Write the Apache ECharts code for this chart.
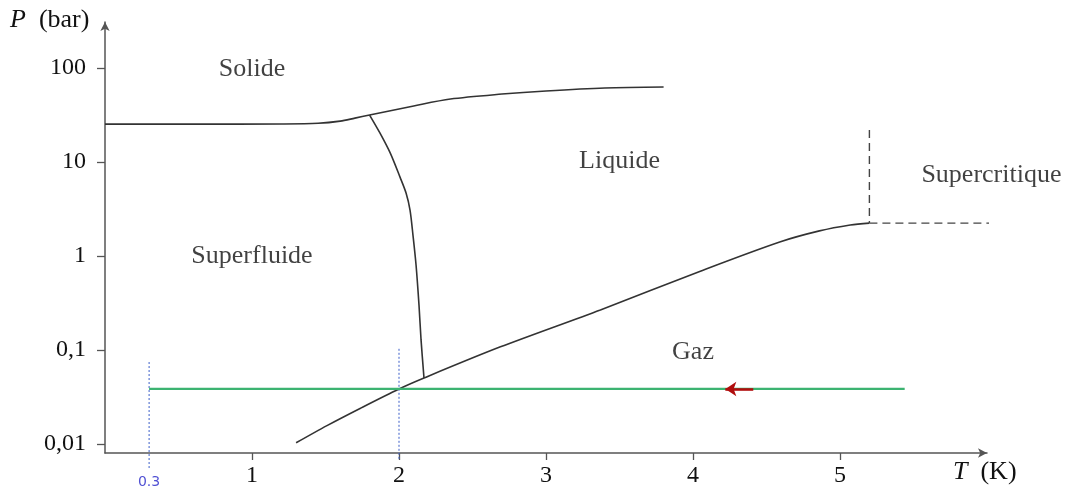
<!DOCTYPE html>
<html>
<head>
<meta charset="utf-8">
<script src="https://cdn.jsdelivr.net/npm/echarts@6/dist/echarts.min.js"></script>
<style>
  html, body { margin: 0; padding: 0; background: #ffffff; }
  #chart { width: 1069px; height: 488px; }
</style>
</head>
<body>
<div id="chart"></div>
<script>
// Phase diagram of helium-4: temperature T (K) against pressure P (bar, log scale)

// Melting curve (solid / liquid and solid / superfluid boundary)
const meltT = [0, 0.6, 1.2, 1.45, 1.6, 1.7, 1.8, 2.1, 2.35, 2.7, 3.0, 3.4, 3.8];
const meltP = [25.3, 25.3, 25.4, 25.8, 27.2, 29.3, 31.6, 39.5, 46.8, 52.8, 57, 61.3, 62.8];

// Lambda line (superfluid / normal liquid)
const lambdaT = [1.80, 1.87, 1.94, 2.007, 2.048, 2.075, 2.095, 2.116, 2.136, 2.15, 2.17];
const lambdaP = [31.6, 20.4, 12.5, 6.9, 4.68, 3.08, 1.67, 0.802, 0.301, 0.128, 0.0504];

// Vaporisation curve, ending at the critical point
const vapT = [1.30, 1.51, 1.735, 2.0, 2.17, 2.69, 3.37, 4.05, 4.59, 4.86, 5.07, 5.2];
const vapP = [0.0103, 0.0157, 0.0239, 0.0385, 0.0504, 0.108, 0.267, 0.69, 1.41, 1.85, 2.14, 2.24];

// Dashed boundaries of the supercritical domain
const critVertT = [5.2, 5.2];
const critVertP = [21.9, 2.24];
const critHorT = [5.2, 6.21];
const critHorP = [2.24, 2.24];

// Isobaric cooling path and its direction arrow
const pathT = [0.3, 5.44];
const pathP = [0.0385, 0.0385];
const arrowT = [4.41, 4.22];

// Dotted guides at T = 0.3 K and T = 2 K
const guideLowT = [0.3, 0.3];
const guideLowP = [0.0745, 0.0053];
const guideLambdaT = [2, 2];
const guideLambdaP = [0.103, 0.0068];
const guideLabel = '0.3';
const guideLabelT = 0.3;
const guideLabelP = 0.0039;

// Region names
const regionNames = ['Solide', 'Liquide', 'Supercritique', 'Superfluide', 'Gaz'];
const regionT = [1.0, 3.5, 6.03, 1.0, 4.0];
const regionP = [98, 10.3, 7.3, 1.0, 0.095];

// Tick labels
const xTickLabels = ['1', '2', '3', '4', '5'];
const yTickLabels = ['0,01', '0,1', '1', '10', '100'];

const pairs = (ts, ps) => ts.map((t, i) => [t, ps[i]]);

const SERIF = '"Liberation Serif", "DejaVu Serif", serif';
const INK = '#111111';
const AXIS = '#555555';

const curveStyle = { color: '#333333', width: 1.6 };

function curve(ts, ps, extra) {
  return Object.assign({
    type: 'line',
    xAxisIndex: 0,
    yAxisIndex: 0,
    data: pairs(ts, ps),
    showSymbol: false,
    symbol: 'none',
    clip: false,
    silent: true,
    lineStyle: curveStyle
  }, extra || {});
}

const chart = echarts.init(document.getElementById('chart'), null, { renderer: 'canvas' });

chart.setOption({
  animation: false,
  backgroundColor: '#ffffff',
  grid: [
    // plotting frame carrying the arrowed axes
    { left: 105, right: 82, top: 22, bottom: 35 },
    // decade / unit span used for ticks and tick labels
    { left: 252, right: 229, top: 68, bottom: 44 }
  ],
  xAxis: [
    {
      gridIndex: 0, type: 'value', min: 0, max: 6,
      axisLine: { show: true, onZero: false, symbol: ['none', 'arrow'], symbolSize: [7, 9],
                  lineStyle: { color: AXIS, width: 1.5 } },
      axisTick: { show: false }, axisLabel: { show: false }, splitLine: { show: false }
    },
    {
      gridIndex: 1, type: 'value', min: 1, max: 5, interval: 1, offset: 9,
      axisLine: { show: false },
      axisTick: { show: true, length: 7, lineStyle: { color: AXIS, width: 1.3 } },
      axisLabel: {
        show: true, margin: 11, color: INK, fontFamily: SERIF, fontSize: 24,
        formatter: v => xTickLabels[Math.round(v) - 1]
      },
      splitLine: { show: false }
    }
  ],
  yAxis: [
    {
      gridIndex: 0, type: 'log', logBase: 10, min: 0.008022, max: 308.6,
      axisLine: { show: true, onZero: false, symbol: ['none', 'arrow'], symbolSize: [7, 9],
                  lineStyle: { color: AXIS, width: 1.5 } },
      axisTick: { show: false }, axisLabel: { show: false }, splitLine: { show: false }
    },
    {
      gridIndex: 1, type: 'log', logBase: 10, min: 0.01, max: 100, offset: 147,
      axisLine: { show: false },
      axisTick: { show: true, length: 8, lineStyle: { color: AXIS, width: 1.3 } },
      axisLabel: {
        show: true, margin: 19, color: INK, fontFamily: SERIF, fontSize: 24,
        formatter: v => yTickLabels[Math.round(Math.log10(v)) + 2]
      },
      splitLine: { show: false }
    }
  ],
  graphic: [
    {
      type: 'text', x: 10, y: 20, silent: true,
      style: {
        text: '{i|P}  (bar)', fill: INK, fontFamily: SERIF, fontSize: 26,
        verticalAlign: 'middle', align: 'left',
        rich: { i: { fontStyle: 'italic', fontFamily: SERIF, fontSize: 26, fill: INK } }
      }
    },
    {
      type: 'text', x: 953, y: 472, silent: true,
      style: {
        text: '{i|T}  (K)', fill: INK, fontFamily: SERIF, fontSize: 26,
        verticalAlign: 'middle', align: 'left',
        rich: { i: { fontStyle: 'italic', fontFamily: SERIF, fontSize: 26, fill: INK } }
      }
    }
  ],
  series: [
    curve(guideLowT, guideLowP, { lineStyle: { color: '#3d5fc9', width: 1, type: [2, 2] } }),
    curve(guideLambdaT, guideLambdaP, { lineStyle: { color: '#3d5fc9', width: 1, type: [2, 2] } }),
    curve(meltT, meltP, { smooth: 0.3 }),
    curve(lambdaT, lambdaP, { smooth: 0.3 }),
    curve(vapT, vapP, { smooth: 0.3 }),
    curve(critVertT, critVertP, { lineStyle: { color: '#444444', width: 1.4, type: [8, 5] } }),
    curve(critHorT, critHorP, { lineStyle: { color: '#444444', width: 1.4, type: [8, 5] } }),
    curve(pathT, pathP, {
      lineStyle: { color: '#3cb371', width: 2.2 },
      markLine: {
        silent: true,
        symbol: ['none', 'arrow'],
        symbolSize: 11,
        label: { show: false },
        lineStyle: { color: '#b00d0d', width: 2.6, type: 'solid' },
        data: [[{ coord: [arrowT[0], pathP[0]] }, { coord: [arrowT[1], pathP[0]] }]]
      }
    }),
    {
      type: 'scatter', xAxisIndex: 0, yAxisIndex: 0, clip: false, silent: true,
      symbolSize: 0,
      data: regionNames.map((n, i) => ({ name: n, value: [regionT[i], regionP[i]] })),
      label: {
        show: true, position: 'inside', formatter: '{b}',
        color: INK, fontFamily: SERIF, fontSize: 26
      }
    },
    {
      type: 'scatter', xAxisIndex: 0, yAxisIndex: 0, clip: false, silent: true,
      symbolSize: 0,
      data: [{ name: guideLabel, value: [guideLabelT, guideLabelP] }],
      label: {
        show: true, position: 'inside', formatter: '{b}',
        color: '#2424c8', fontFamily: '"DejaVu Sans", sans-serif', fontSize: 14
      }
    }
  ]
});
</script>
</body>
</html>
